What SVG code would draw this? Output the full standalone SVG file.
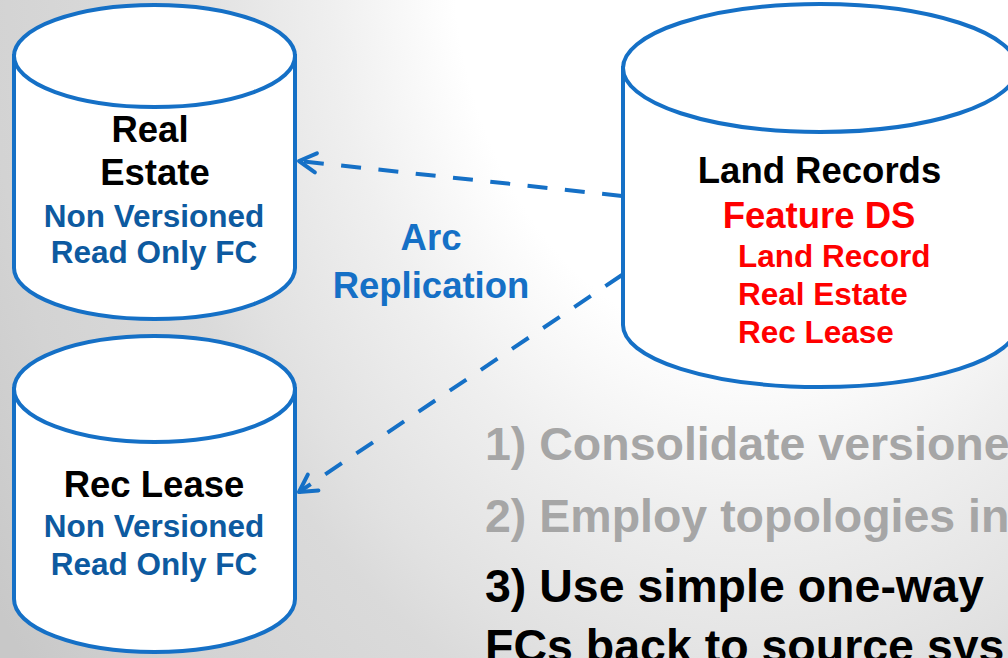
<svg xmlns="http://www.w3.org/2000/svg" width="1008" height="658" viewBox="0 0 1008 658">
  <defs>
    <radialGradient id="bg" gradientUnits="userSpaceOnUse" cx="0" cy="0" r="900" gradientTransform="translate(750 -50) scale(1 1.3333)">
      <stop offset="0" stop-color="#ffffff"/>
      <stop offset="0.33" stop-color="#ffffff"/>
      <stop offset="0.47" stop-color="#efefef"/>
      <stop offset="0.62" stop-color="#e1e1e1"/>
      <stop offset="0.68" stop-color="#dadada"/>
      <stop offset="0.85" stop-color="#d3d3d3"/>
      <stop offset="1" stop-color="#c8c8c8"/>
    </radialGradient>
    <marker id="open-arrow" markerUnits="userSpaceOnUse" markerWidth="40" markerHeight="40" refX="0" refY="0" viewBox="-30 -20 40 40" orient="auto" overflow="visible">
      <path d="M -17 -9.5 L 0 0 L -17 9.5" fill="none" stroke="#1570c6" stroke-width="4" stroke-linecap="round" stroke-linejoin="round"/>
    </marker>
    <style>
      .db { fill: #ffffff; stroke: #1570c6; stroke-width: 4; }
      text { font-family: "Liberation Sans", Arial, sans-serif; font-weight: bold; }
      .title { fill: #000000; font-size: 36.5px; text-anchor: middle; }
      .sub { fill: #0d5aa0; font-size: 31.5px; text-anchor: middle; }
      .red { fill: #ff0000; }
      .flow { fill: none; stroke: #1570c6; stroke-width: 4; stroke-dasharray: 20 17.5; marker-end: url(#open-arrow); }
      .lbl { fill: #1570c6; font-size: 36.5px; text-anchor: middle; }
      .point { font-size: 46.5px; }
    </style>
  </defs>

  <rect width="1008" height="658" fill="url(#bg)"/>

  <!-- Real Estate replica -->
  <g id="real-estate">
    <path class="db" d="M 14 56 V 268 A 140.5 51 0 0 0 295 268 V 56 Z"/>
    <ellipse class="db" cx="154.5" cy="56" rx="140.5" ry="51"/>
    <text class="title" x="150" y="142">Real</text>
    <text class="title" x="155" y="185">Estate</text>
    <text class="sub" x="154" y="227">Non Versioned</text>
    <text class="sub" x="154" y="263">Read Only FC</text>
  </g>

  <!-- Rec Lease replica -->
  <g id="rec-lease">
    <path class="db" d="M 14 389 V 599 A 140.5 53 0 0 0 295 599 V 389 Z"/>
    <ellipse class="db" cx="154.5" cy="389" rx="140.5" ry="53"/>
    <text class="title" x="154" y="497">Rec Lease</text>
    <text class="sub" x="154" y="537">Non Versioned</text>
    <text class="sub" x="154" y="575">Read Only FC</text>
  </g>

  <!-- Source geodatabase -->
  <g id="land-records">
    <path class="db" d="M 623 68 V 325 A 197 62 0 0 0 1017 325 V 68 Z"/>
    <ellipse class="db" cx="820" cy="68" rx="197" ry="64"/>
    <text class="title" x="819.5" y="183">Land Records</text>
    <text class="title red" x="819" y="228">Feature DS</text>
    <text class="red" x="738" y="267" font-size="31.5">Land Record</text>
    <text class="red" x="738" y="305" font-size="31.5">Real Estate</text>
    <text class="red" x="738" y="343" font-size="31.5">Rec Lease</text>
  </g>

  <!-- Replication flows -->
  <g id="connectors">
    <path class="flow" d="M 622 196 L 299 161"/>
    <path class="flow" d="M 622 275 L 299 492"/>
    <text class="lbl" x="431" y="250">Arc</text>
    <text class="lbl" x="431" y="298">Replication</text>
  </g>

  <!-- Strategy points -->
  <g id="points">
    <text class="point" x="485" y="460" fill="#a6a6a6">1) Consolidate versione</text>
    <text class="point" x="485" y="532" fill="#a6a6a6">2) Employ topologies in</text>
    <text class="point" x="485" y="602" fill="#000000">3) Use simple one-way</text>
    <text class="point" x="485" y="662" fill="#000000">FCs back to source sys</text>
  </g>
</svg>
